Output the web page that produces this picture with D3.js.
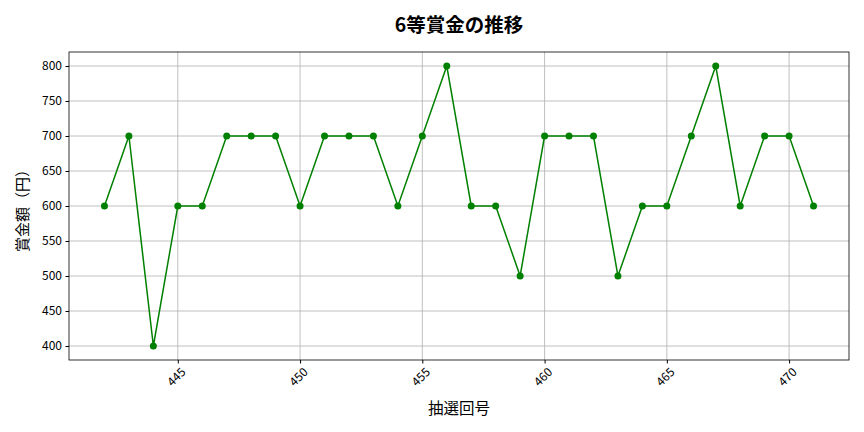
<!DOCTYPE html>
<html><head><meta charset="utf-8">
<script src="https://cdn.jsdelivr.net/npm/d3@7"></script>
<style>body{margin:0;background:#fff;} svg{display:block;} text{font-family:"Noto Sans CJK JP","Noto Sans",sans-serif;}</style>
</head><body>
<svg id="c" width="864" height="432"></svg>
<script>
const draws = [442,443,444,445,446,447,448,449,450,451,452,453,454,455,456,457,458,459,460,461,462,463,464,465,466,467,468,469,470,471];
const prizes = [600,700,400,600,600,700,700,700,600,700,700,700,600,700,800,600,600,500,700,700,700,500,600,600,700,800,600,700,700,600];
const xTicks = [445,450,455,460,465,470];
const yTicks = [400,450,500,550,600,650,700,750,800];
const title = "6等賞金の推移";
const xLabel = "抽選回号";
const yLabel = "賞金額（円）";

const svg = d3.select("#c");
const L=69, R=849, T=52, B=360;
const x = d3.scaleLinear().domain([440.55,472.45]).range([L,R]);
const y = d3.scaleLinear().domain([380,820]).range([B,T]);

const g = svg.append("g");
g.selectAll(".gx").data(xTicks).enter().append("line")
 .attr("x1",d=>x(d)).attr("x2",d=>x(d)).attr("y1",T).attr("y2",B)
 .attr("stroke","#b0b0b0").attr("stroke-width",0.8);
g.selectAll(".gy").data(yTicks).enter().append("line")
 .attr("x1",L).attr("x2",R).attr("y1",d=>y(d)).attr("y2",d=>y(d))
 .attr("stroke","#b0b0b0").attr("stroke-width",0.8);

const xa = svg.append("g").attr("transform",`translate(0,${B})`)
 .call(d3.axisBottom(x).tickValues(xTicks).tickSize(3.5).tickSizeOuter(0).tickFormat(d3.format("d")));
xa.select(".domain").remove();
xa.selectAll("text").attr("font-size",12).attr("fill","#000")
 .attr("text-anchor","middle").attr("dy","0.35em").attr("y",0)
 .attr("transform","translate(-2,17) rotate(-45)");
xa.selectAll("line").attr("stroke","#000");

const ya = svg.append("g").attr("transform",`translate(${L},0)`)
 .call(d3.axisLeft(y).tickValues(yTicks).tickSize(3.5).tickSizeOuter(0).tickPadding(3.5));
ya.select(".domain").remove();
ya.selectAll("text").attr("font-size",12).attr("fill","#000");
ya.selectAll("line").attr("stroke","#000");

svg.append("rect").attr("x",L).attr("y",T).attr("width",R-L).attr("height",B-T)
 .attr("fill","none").attr("stroke","#000").attr("stroke-width",0.8);

const pts = draws.map((d,i)=>[d,prizes[i]]);
svg.append("path").datum(pts)
 .attr("d",d3.line().x(d=>x(d[0])).y(d=>y(d[1])))
 .attr("fill","none").attr("stroke","#008000").attr("stroke-width",1.5);
svg.selectAll(".pt").data(pts).enter().append("circle")
 .attr("cx",d=>x(d[0])).attr("cy",d=>y(d[1])).attr("r",3.5).attr("fill","#008000");

svg.append("text").attr("x",(L+R)/2).attr("y",32).attr("text-anchor","middle")
 .attr("font-size",19.5).attr("font-weight","bold").text(title);
svg.append("text").attr("x",(L+R)/2).attr("y",414).attr("text-anchor","middle")
 .attr("font-size",15.5).text(xLabel);
svg.append("text").attr("transform",`translate(28,${(T+B)/2 + 1}) rotate(-90)`).attr("text-anchor","middle")
 .attr("font-size",15).text(yLabel);
</script>
</body></html>
